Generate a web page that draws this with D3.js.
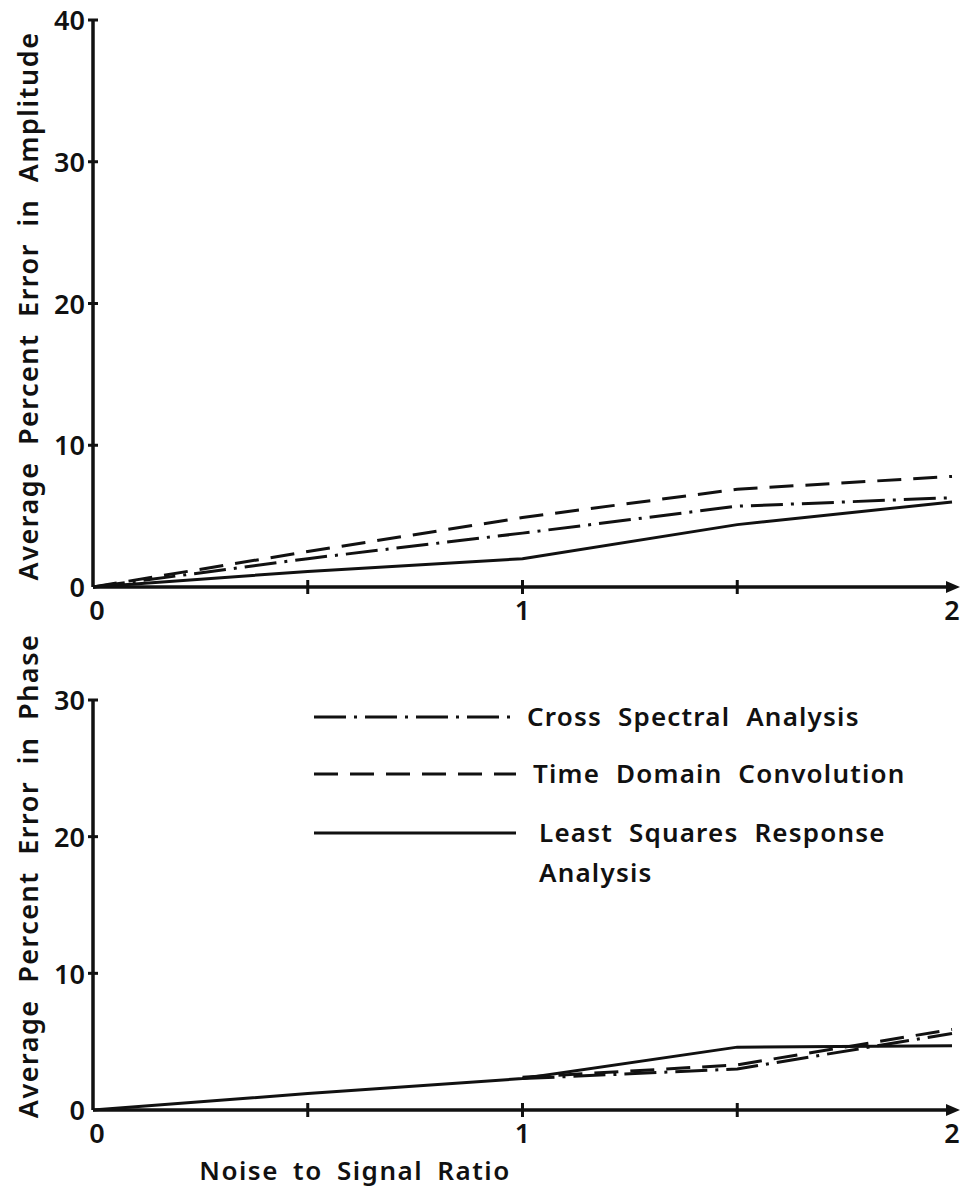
<!DOCTYPE html>
<html>
<head>
<meta charset="utf-8">
<script src="https://cdn.jsdelivr.net/npm/d3@7"></script>
<style>
  html, body { margin: 0; padding: 0; background: #fff; }
  svg { display: block; }
  text { font-family: "Noto Sans", "DejaVu Sans", sans-serif; fill: #111; white-space: pre; font-weight: 600; }
</style>
</head>
<body>
<svg id="chart" width="962" height="1195"></svg>
<script>
// Noise-to-signal ratios at which the methods were evaluated
const ratios = [0, 0.5, 1, 1.5, 2];

// Average percent error in amplitude
const ampCross = [0, 2.0, 3.8, 5.7, 6.3];
const ampTime  = [0, 2.5, 4.9, 6.9, 7.8];
const ampLsq   = [0, 1.1, 2.0, 4.4, 6.0];

// Average percent error in phase (spectral / convolution only from ratio 1 upward)
const phaseRatios = [1, 1.5, 2];
const phaseCross = [2.3, 3.0, 5.6];
const phaseTime  = [2.4, 3.3, 5.9];
const phaseLsq   = [0, 1.2, 2.3, 4.6, 4.7];

const xTicksMinor = [0.5, 1, 1.5];
const xTickLabels = [0, 1, 2];
const ampTicks = [0, 10, 20, 30, 40];
const phaseTicks = [0, 10, 20, 30];

const legendItems = [
  { label: ["Cross  Spectral  Analysis"], style: "dashdot" },
  { label: ["Time  Domain  Convolution"], style: "dashed" },
  { label: ["Least  Squares  Response", "Analysis"], style: "solid" }
];

const dashes = { solid: null, dashed: "24,12", dashdot: "32,8,3,8" };

const svg = d3.select("#chart");
const x = d3.scaleLinear().domain([0, 2]).range([93, 952]);

function panel(cfg) {
  const y = d3.scaleLinear().domain([0, cfg.max]).range([cfg.bottom, cfg.top]);
  const g = svg.append("g");

  // vertical axis with a capped top
  g.append("line").attr("x1", x(0)).attr("x2", x(0))
    .attr("y1", y(0)).attr("y2", y(cfg.max))
    .attr("stroke", "#111").attr("stroke-width", 3.5);
  g.append("line").attr("x1", x(0) - 5).attr("x2", x(0) + 5)
    .attr("y1", y(cfg.max)).attr("y2", y(cfg.max))
    .attr("stroke", "#111").attr("stroke-width", 3);

  // horizontal axis ending in an arrow
  g.append("line").attr("x1", x(0)).attr("x2", x(2) + 2)
    .attr("y1", y(0)).attr("y2", y(0))
    .attr("stroke", "#111").attr("stroke-width", 3.5);
  g.append("path")
    .attr("d", `M${x(2) - 6},${y(0) - 6} L${x(2) + 8},${y(0)} L${x(2) - 6},${y(0) + 6} Z`)
    .attr("fill", "#111");

  // y ticks crossing the axis, labels on the left
  const yAxis = d3.axisLeft(y).tickValues(cfg.ticks).tickSize(0).tickPadding(8).tickFormat(d3.format("d"));
  const ya = g.append("g").attr("transform", `translate(${x(0)},0)`).call(yAxis);
  ya.select(".domain").remove();
  ya.selectAll("text")
    .style("font-size", "27px")
    .style("font-family", "'Noto Sans', sans-serif")
    .style("font-weight", 600)
    .attr("dy", "0.36em")
    .attr("fill", "#111");
  g.selectAll(".ytick").data(cfg.ticks.filter(t => t > 0 && t < cfg.max)).join("line")
    .attr("x1", x(0) - 5).attr("x2", x(0) + 5)
    .attr("y1", d => y(d)).attr("y2", d => y(d))
    .attr("stroke", "#111").attr("stroke-width", 3);

  // x ticks crossing the axis
  g.selectAll(".xtick").data(xTicksMinor).join("line")
    .attr("x1", d => x(d)).attr("x2", d => x(d))
    .attr("y1", y(0) - 7).attr("y2", y(0) + 7)
    .attr("stroke", "#111").attr("stroke-width", 3);
  g.selectAll(".xlab").data(xTickLabels).join("text")
    .attr("x", d => x(d) + (d === 0 ? 4 : 0))
    .attr("y", y(0) + 33)
    .attr("text-anchor", "middle")
    .style("font-size", "27px")
    .text(d => d);

  // y title
  g.append("text")
    .attr("transform", `translate(${cfg.titleX},${cfg.titleY}) rotate(-90)`)
    .attr("text-anchor", "middle")
    .style("font-size", "27px")
    .style("letter-spacing", "1.5px")
    .style("word-spacing", "8px")
    .text(cfg.title);

  const line = d3.line().x(d => x(d[0])).y(d => y(d[1]));
  cfg.series.forEach(s => {
    g.append("path")
      .datum(s.xs.map((v, i) => [v, s.ys[i]]))
      .attr("d", line)
      .attr("fill", "none")
      .attr("stroke", "#111")
      .attr("stroke-width", 3)
      .attr("stroke-dasharray", dashes[s.style]);
  });
  return y;
}

panel({
  max: 40, top: 20, bottom: 587, ticks: ampTicks, titleX: 38, titleY: 306,
  title: "Average Percent Error in Amplitude",
  series: [
    { xs: ratios, ys: ampLsq, style: "solid" },
    { xs: ratios, ys: ampTime, style: "dashed" },
    { xs: ratios, ys: ampCross, style: "dashdot" }
  ]
});

panel({
  max: 30, top: 700, bottom: 1110, ticks: phaseTicks, titleX: 38, titleY: 876,
  title: "Average Percent Error in Phase",
  series: [
    { xs: ratios, ys: phaseLsq, style: "solid" },
    { xs: phaseRatios, ys: phaseTime, style: "dashed" },
    { xs: phaseRatios, ys: phaseCross, style: "dashdot" }
  ]
});

// x title
svg.append("text")
  .attr("x", 355).attr("y", 1180)
  .attr("text-anchor", "middle")
  .style("font-size", "26px")
  .style("letter-spacing", "1.5px")
  .style("word-spacing", "6px")
  .text("Noise to Signal Ratio");

// legend
const legendY = [717, 774, 833];
const lg = svg.append("g");
legendItems.forEach((it, i) => {
  lg.append("line")
    .attr("x1", 314).attr("x2", 516)
    .attr("y1", legendY[i]).attr("y2", legendY[i])
    .attr("stroke", "#111").attr("stroke-width", 3)
    .attr("stroke-dasharray", dashes[it.style]);
  it.label.forEach((t, j) => {
    lg.append("text")
      .attr("x", 527 + i * 6).attr("y", legendY[i] + 9 + j * 40)
      .style("font-size", "26px")
      .style("letter-spacing", "1.2px")
      .text(t);
  });
});
</script>
</body>
</html>
